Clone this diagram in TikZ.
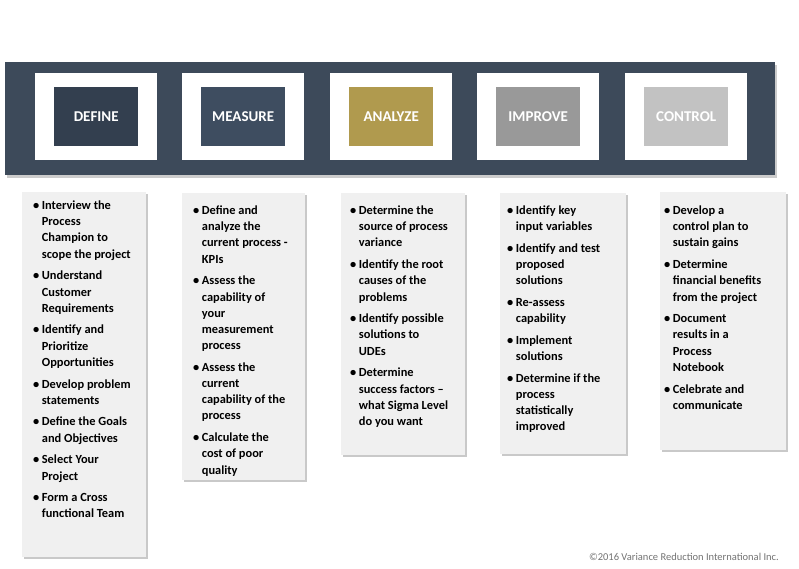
\documentclass[tikz,border=0pt]{standalone}
\usepackage{fontspec}
\setmainfont{Carlito}
\usetikzlibrary{shadows}
\definecolor{band}{HTML}{3D4A5A}
\definecolor{cdef}{HTML}{333F4F}
\definecolor{cmea}{HTML}{3E4D60}
\definecolor{cana}{HTML}{B09A4E}
\definecolor{cimp}{HTML}{999999}
\definecolor{ccon}{HTML}{C2C2C2}
\definecolor{panel}{HTML}{F0F0F0}
\tikzset{
 frame/.style={fill=white,draw=none,minimum width=122pt,minimum height=87pt,anchor=north west,inner sep=0},
 phase/.style={draw=none,minimum width=84pt,minimum height=59pt,text=white,font=\fontsize{15}{17}\selectfont\bfseries,inner sep=0},
 pan/.style={fill=panel,draw=none,anchor=north west,inner sep=0,drop shadow={shadow xshift=2pt,shadow yshift=-2pt,opacity=0.35,fill=black!60}},
 txt/.style={anchor=north west,inner sep=0,font=\fontsize{12.4}{16.2}\selectfont\bfseries,align=left}
}
\newcommand{\bl}{\textbullet}
\begin{document}
\begin{tikzpicture}[x=1pt,y=-1pt]
\useasboundingbox[fill=white] (0,0) rectangle (799,569);
\node[fill=band,anchor=north west,minimum width=770pt,minimum height=113pt,inner sep=0,drop shadow={shadow xshift=2pt,shadow yshift=-3pt,opacity=0.4}] (band) at (5,62) {};
\foreach \n/\x/\c/\t in {d/35/cdef/DEFINE,m/182/cmea/MEASURE,a/330/cana/ANALYZE,i/477/cimp/IMPROVE,c/625/ccon/CONTROL}{
 \node[frame] (f\n) at (\x,73) {};
 \node[phase,fill=\c] (p\n) at (f\n.center) {\t};
}
\node[pan,minimum width=124pt,minimum height=365pt] (c1) at (22,192) {};
\node[pan,minimum width=123pt,minimum height=287pt] (c2) at (182,193) {};
\node[pan,minimum width=124pt,minimum height=262pt] (c3) at (341,193) {};
\node[pan,minimum width=126pt,minimum height=261pt] (c4) at (500,193) {};
\node[pan,minimum width=126pt,minimum height=258pt] (c5) at (660,192) {};
\node[txt] (t1) at (33,198) {\begin{tabular}{@{}l@{\hspace{2.5pt}}l@{}}
\bl & Interview the\\ & Process\\ & Champion to\\ & scope the project\\[5.5pt]
\bl & Understand\\ & Customer\\ & Requirements\\[5.5pt]
\bl & Identify and\\ & Prioritize\\ & Opportunities\\[5.5pt]
\bl & Develop problem\\ & statements\\[5.5pt]
\bl & Define the Goals\\ & and Objectives\\[5.5pt]
\bl & Select Your\\ & Project\\[5.5pt]
\bl & Form a Cross\\ & functional Team
\end{tabular}};
\node[txt] (t2) at (193,203) {\begin{tabular}{@{}l@{\hspace{2.5pt}}l@{}}
\bl & Define and\\ & analyze the\\ & current process -\\ & KPIs\\[5.5pt]
\bl & Assess the\\ & capability of\\ & your\\ & measurement\\ & process\\[5.5pt]
\bl & Assess the\\ & current\\ & capability of the\\ & process\\[5.5pt]
\bl & Calculate the\\ & cost of poor\\ & quality
\end{tabular}};
\node[txt] (t3) at (350,203) {\begin{tabular}{@{}l@{\hspace{2.5pt}}l@{}}
\bl & Determine the\\ & source of process\\ & variance\\[5.5pt]
\bl & Identify the root\\ & causes of the\\ & problems\\[5.5pt]
\bl & Identify possible\\ & solutions to\\ & UDEs\\[5.5pt]
\bl & Determine\\ & success factors --\\ & what Sigma Level\\ & do you want
\end{tabular}};
\node[txt] (t4) at (507,203) {\begin{tabular}{@{}l@{\hspace{2.5pt}}l@{}}
\bl & Identify key\\ & input variables\\[5.5pt]
\bl & Identify and test\\ & proposed\\ & solutions\\[5.5pt]
\bl & Re-assess\\ & capability\\[5.5pt]
\bl & Implement\\ & solutions\\[5.5pt]
\bl & Determine if the\\ & process\\ & statistically\\ & improved
\end{tabular}};
\node[txt] (t5) at (664,203) {\begin{tabular}{@{}l@{\hspace{2.5pt}}l@{}}
\bl & Develop a\\ & control plan to\\ & sustain gains\\[5.5pt]
\bl & Determine\\ & financial benefits\\ & from the project\\[5.5pt]
\bl & Document\\ & results in a\\ & Process\\ & Notebook\\[5.5pt]
\bl & Celebrate and\\ & communicate
\end{tabular}};
\node[anchor=east,text=black!55,font=\fontsize{10.5}{12}\selectfont,inner sep=0] (cp) at (779,557) {©2016 Variance Reduction International Inc.};
\end{tikzpicture}
\end{document}
